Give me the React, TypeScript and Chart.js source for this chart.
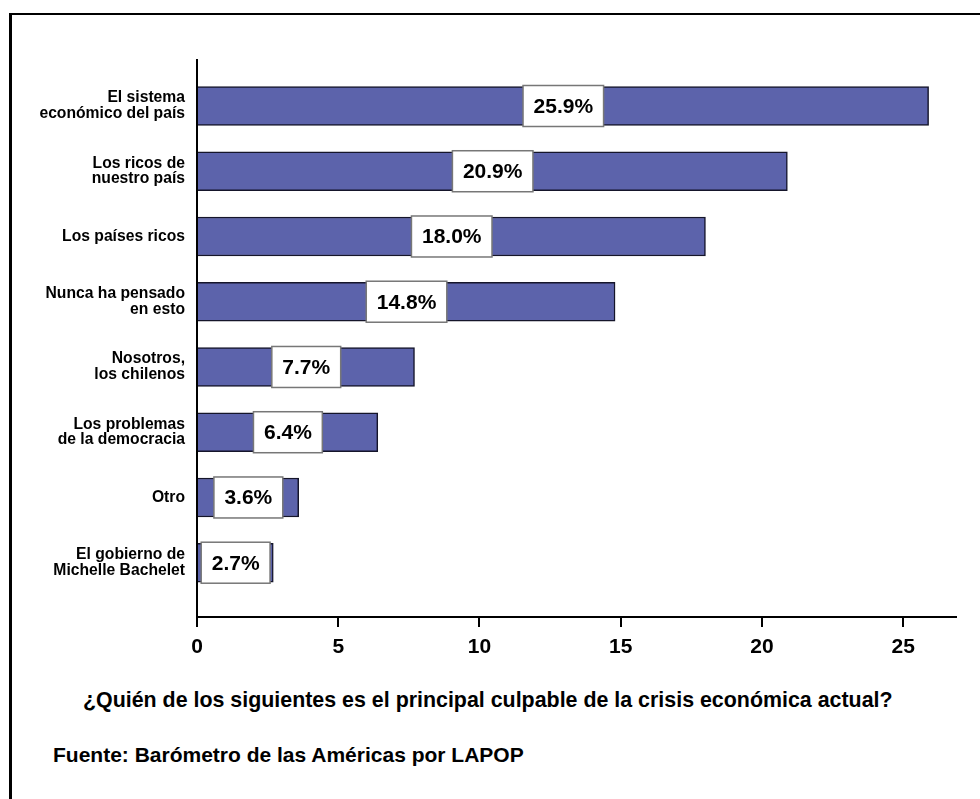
import React, { useEffect, useRef } from "react";
import { Chart, registerables } from "chart.js";

Chart.register(...registerables);

const categories: string[][] = [
  ["El sistema", "económico del país"],
  ["Los ricos de", "nuestro país"],
  ["Los países ricos"],
  ["Nunca ha pensado", "en esto"],
  ["Nosotros,", "los chilenos"],
  ["Los problemas", "de la democracia"],
  ["Otro"],
  ["El gobierno de", "Michelle Bachelet"],
];
const values: number[] = [25.9, 20.9, 18.0, 14.8, 7.7, 6.4, 3.6, 2.7];
const xTicks: number[] = [0, 5, 10, 15, 20, 25];
const questionText = "¿Quién de los siguientes es el principal culpable de la crisis económica actual?";
const sourceText = "Fuente: Barómetro de las Américas por LAPOP";

const FONT = '"Liberation Sans", Arial, Helvetica, sans-serif';

const valueLabelPlugin = {
  id: "valueLabels",
  afterDatasetsDraw(chart: any) {
    const ctx = chart.ctx;
    const meta = chart.getDatasetMeta(0);
    ctx.save();
    ctx.font = `bold 21px ${FONT}`;
    ctx.textAlign = "center";
    ctx.textBaseline = "middle";
    meta.data.forEach((bar: any, i: number) => {
      const p = bar.getProps(["x", "y", "base", "height"], true);
      const cx = (p.x + p.base) / 2;
      const text = values[i].toFixed(1) + "%";
      const w = ctx.measureText(text).width + 21;
      const h = p.height + 2;
      ctx.fillStyle = "#ffffff";
      ctx.fillRect(cx - w / 2, p.y - h / 2, w, h);
      ctx.strokeStyle = "#777777";
      ctx.lineWidth = 1.5;
      ctx.strokeRect(cx - w / 2, p.y - h / 2, w, h);
      ctx.fillStyle = "#000000";
      ctx.fillText(text, cx, p.y + 1);
    });
    ctx.restore();
  },
};

export default function App() {
  const ref = useRef<HTMLCanvasElement | null>(null);

  useEffect(() => {
    if (!ref.current) return;
    const chart = new Chart(ref.current, {
      type: "bar",
      data: {
        datasets: [
          {
            data: values.map((v, i) => ({ x: v, y: i })) as any,
            backgroundColor: "#5c63ab",
            borderColor: "#15152a",
            borderWidth: 1.5,
            barThickness: 39,
          },
        ],
      },
      options: {
        indexAxis: "y",
        responsive: false,
        animation: false,
        layout: { padding: { top: 60, right: 24, left: 0, bottom: 0 } },
        plugins: {
          legend: { display: false },
          tooltip: { enabled: false },
        },
        scales: {
          x: {
            type: "linear",
            position: "bottom",
            offset: false,
            min: 0,
            max: 26.87,
            grid: {
              display: true,
              offset: false,
              drawOnChartArea: false,
              drawTicks: true,
              tickLength: 10,
              color: "#000",
              lineWidth: 2,
            },
            border: { display: true, color: "#000", width: 2 },
            ticks: {
              stepSize: 5,
              includeBounds: false,
              color: "#000",
              padding: 8,
              font: { family: FONT, size: 21, weight: "bold" },
            },
            afterBuildTicks: (s: any) => {
              s.ticks = xTicks.map((v) => ({ value: v }));
            },
            afterFit: (s: any) => {
              s.height = 63;
            },
          },
          y: {
            type: "linear",
            reverse: true,
            offset: false,
            min: -0.705,
            max: 7.832,
            grid: { display: false, drawTicks: false, offset: false },
            border: { display: true, color: "#000", width: 2 },
            ticks: {
              color: "#000",
              padding: 12,
              font: { family: FONT, size: 15.7, weight: "bold", lineHeight: 1.0 },
              callback: (v: any) => categories[v as number] ?? "",
            },
            afterBuildTicks: (s: any) => {
              s.ticks = categories.map((_, i) => ({ value: i }));
            },
            afterFit: (s: any) => {
              s.width = 197;
            },
          },
        },
      } as any,
      plugins: [valueLabelPlugin],
    });
    return () => chart.destroy();
  }, []);

  return (
    <div
      style={{
        position: "absolute",
        left: 0,
        top: 0,
        width: 980,
        height: 799,
        background: "#fff",
        overflow: "hidden",
      }}
    >
      <div
        style={{
          position: "absolute",
          left: 9,
          top: 13,
          right: 0,
          bottom: 0,
          borderTop: "2px solid #000",
          borderLeft: "3px solid #000",
        }}
      />
      <canvas
        ref={ref}
        width={980}
        height={680}
        style={{ position: "absolute", left: 0, top: 0, width: 980, height: 680 }}
      />
      <div
        style={{
          position: "absolute",
          left: 83,
          top: 690,
          fontFamily: FONT,
          fontWeight: "bold",
          fontSize: 21.4,
          lineHeight: "21px",
          whiteSpace: "nowrap",
          color: "#000",
        }}
      >
        {questionText}
      </div>
      <div
        style={{
          position: "absolute",
          left: 53,
          top: 744,
          fontFamily: FONT,
          fontWeight: "bold",
          fontSize: 21,
          lineHeight: "21px",
          whiteSpace: "nowrap",
          color: "#000",
        }}
      >
        {sourceText}
      </div>
    </div>
  );
}
